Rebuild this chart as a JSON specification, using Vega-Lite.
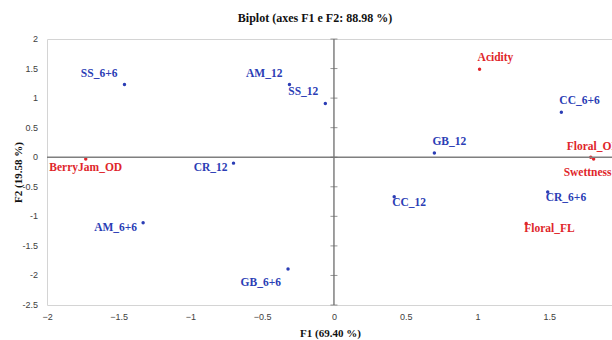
{
  "$schema": "https://vega.github.io/schema/vega-lite/v6.json",
  "width": 566,
  "height": 266,
  "autosize": {"type": "none"},
  "padding": {"left": 47, "top": 39, "right": 0, "bottom": 35},
  "background": "white",
  "title": {"text": "Biplot (axes F1 e F2: 88.98 %)", "font": "Liberation Serif", "fontSize": 12, "fontWeight": "bold", "color": "#111111", "offset": 10, "dx": -15},
  "datasets": {
    "pts": [
      {"label": "SS_6+6", "f1": -1.46, "f2": 1.23, "kind": "obs"},
      {"label": "BerryJam_OD", "f1": -1.73, "f2": -0.03, "kind": "var"},
      {"label": "AM_12", "f1": -0.31, "f2": 1.23, "kind": "obs"},
      {"label": "SS_12", "f1": -0.06, "f2": 0.91, "kind": "obs"},
      {"label": "CR_12", "f1": -0.70, "f2": -0.10, "kind": "obs"},
      {"label": "AM_6+6", "f1": -1.33, "f2": -1.11, "kind": "obs"},
      {"label": "GB_6+6", "f1": -0.32, "f2": -1.89, "kind": "obs"},
      {"label": "Acidity", "f1": 1.015, "f2": 1.49, "kind": "var"},
      {"label": "CC_6+6", "f1": 1.585, "f2": 0.76, "kind": "obs"},
      {"label": "GB_12", "f1": 0.70, "f2": 0.07, "kind": "obs"},
      {"label": "Floral_OD", "f1": 1.79, "f2": 0.0, "kind": "var"},
      {"label": "Swettness", "f1": 1.81, "f2": -0.03, "kind": "var"},
      {"label": "CR_6+6", "f1": 1.49, "f2": -0.59, "kind": "obs"},
      {"label": "CC_12", "f1": 0.42, "f2": -0.67, "kind": "obs"},
      {"label": "Floral_FL", "f1": 1.34, "f2": -1.12, "kind": "var"}
    ],
    "yticks": [
      {"f2": -2.5, "t": "-2.5"}, {"f2": -2, "t": "-2"}, {"f2": -1.5, "t": "-1.5"}, {"f2": -1, "t": "-1"}, {"f2": -0.5, "t": "-0.5"},
      {"f2": 0, "t": "0"}, {"f2": 0.5, "t": "0.5"}, {"f2": 1, "t": "1"}, {"f2": 1.5, "t": "1.5"}, {"f2": 2, "t": "2"}
    ]
  },
  "config": {
    "view": {"stroke": "#d4d4d4", "strokeWidth": 1},
    "axis": {
      "labelFont": "Liberation Sans", "labelFontSize": 9, "labelColor": "#404040",
      "ticks": false, "domain": false, "grid": false,
      "titleFont": "Liberation Serif", "titleFontWeight": "bold", "titleFontSize": 11, "titleColor": "#111111"
    }
  },
  "layer": [
    {
      "data": {"name": "pts"},
      "mark": {"type": "point", "filled": true, "size": 12, "opacity": 1},
      "encoding": {
        "x": {"field": "f1", "type": "quantitative", "scale": {"domain": [-2, 1.945], "nice": false, "zero": false},
          "axis": {"title": "F1 (69.40 %)", "values": [-2, -1.5, -1, -0.5, 0, 0.5, 1, 1.5], "format": "~g", "labelPadding": 7, "titlePadding": 6, "labelOverlap": false, "labelBound": false, "labelFlush": false}},
        "y": {"field": "f2", "type": "quantitative", "scale": {"domain": [-2.5, 2], "nice": false, "zero": false},
          "axis": {"title": "F2 (19.58 %)", "values": [-2.5, -2, -1.5, -1, -0.5, 0, 0.5, 1, 1.5, 2], "labels": false, "titlePadding": 24}},
        "color": {"field": "kind", "type": "nominal", "scale": {"domain": ["obs", "var"], "range": ["#2b3db5", "#e0262b"]}, "legend": null}
      }
    },
    {"data": {"values": [{}]}, "mark": {"type": "rule", "color": "#7f7f7f", "strokeWidth": 1.5}, "encoding": {"x": {"datum": 0, "type": "quantitative"}}},
    {"data": {"values": [{}]}, "mark": {"type": "rule", "color": "#7f7f7f", "strokeWidth": 1.5}, "encoding": {"y": {"datum": 0, "type": "quantitative"}}},
    {"data": {"name": "yticks"}, "mark": {"type": "tick", "color": "#6a6a6a", "size": 7, "thickness": 1, "orient": "horizontal"}, "encoding": {"x": {"datum": 0, "type": "quantitative"}, "y": {"field": "f2", "type": "quantitative"}}},
    {"data": {"name": "yticks"}, "mark": {"type": "text", "font": "Liberation Sans", "fontSize": 9, "color": "#404040", "align": "right", "baseline": "middle", "dx": -9}, "encoding": {"x": {"datum": -2, "type": "quantitative"}, "y": {"field": "f2", "type": "quantitative"}, "text": {"field": "t"}}},
    {
      "data": {"name": "pts"},
      "encoding": {
        "x": {"field": "f1", "type": "quantitative"},
        "y": {"field": "f2", "type": "quantitative"},
        "text": {"field": "label"},
        "color": {"field": "kind", "type": "nominal", "legend": null}
      },
      "layer": [
        {"transform": [{"filter": {"field": "label", "oneOf": ["SS_6+6", "AM_12", "SS_12"]}}], "mark": {"type": "text", "font": "Liberation Serif", "fontWeight": "bold", "fontSize": 11.5, "baseline": "middle", "align": "right", "dx": -7, "dy": -11}},
        {"transform": [{"filter": {"field": "label", "oneOf": ["CR_12", "AM_6+6"]}}], "mark": {"type": "text", "font": "Liberation Serif", "fontWeight": "bold", "fontSize": 11.5, "baseline": "middle", "align": "right", "dx": -6, "dy": 5}},
        {"transform": [{"filter": {"field": "label", "oneOf": ["GB_6+6"]}}], "mark": {"type": "text", "font": "Liberation Serif", "fontWeight": "bold", "fontSize": 11.5, "baseline": "middle", "align": "right", "dx": -7, "dy": 14}},
        {"transform": [{"filter": {"field": "label", "oneOf": ["BerryJam_OD"]}}], "mark": {"type": "text", "font": "Liberation Serif", "fontWeight": "bold", "fontSize": 11.5, "baseline": "middle", "align": "center", "dx": 0, "dy": 9}},
        {"transform": [{"filter": {"field": "label", "oneOf": ["Acidity", "CC_6+6", "GB_12"]}}], "mark": {"type": "text", "font": "Liberation Serif", "fontWeight": "bold", "fontSize": 11.5, "baseline": "middle", "align": "left", "dx": -2, "dy": -11}},
        {"transform": [{"filter": {"field": "label", "oneOf": ["CR_6+6", "CC_12", "Floral_FL"]}}], "mark": {"type": "text", "font": "Liberation Serif", "fontWeight": "bold", "fontSize": 11.5, "baseline": "middle", "align": "left", "dx": -2, "dy": 6}},
        {"transform": [{"filter": {"field": "label", "oneOf": ["Floral_OD"]}}], "mark": {"type": "text", "font": "Liberation Serif", "fontWeight": "bold", "fontSize": 11.5, "baseline": "middle", "align": "left", "dx": -24, "dy": -10}},
        {"transform": [{"filter": {"field": "label", "oneOf": ["Swettness"]}}], "mark": {"type": "text", "font": "Liberation Serif", "fontWeight": "bold", "fontSize": 11.5, "baseline": "middle", "align": "left", "dx": -30, "dy": 14}}
      ]
    }
  ]
}
